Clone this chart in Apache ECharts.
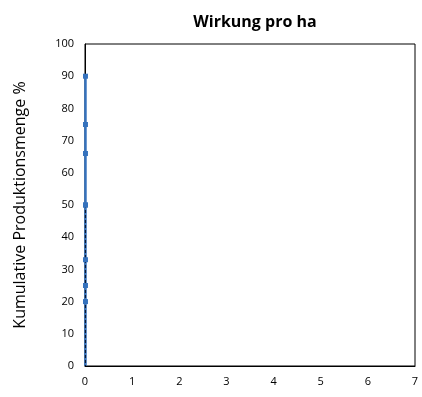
<!DOCTYPE html>
<html><head><meta charset="utf-8">
<script src="https://cdn.jsdelivr.net/npm/echarts@6/dist/echarts.min.js"></script>
<style>html,body{margin:0;padding:0;background:#fff}#c{width:422px;height:397px}</style>
</head><body><div id="c"></div>
<script>
const xTicks = [0,1,2,3,4,5,6,7];
const yTicks = [0,10,20,30,40,50,60,70,80,90,100];
const solidX = [0.01,0.01,0.01,0.01];
const solidY = [90,75,66,50];
const dashedX = [0.01,0.01,0.01,0.01,0.01];
const dashedY = [50,33,25,20,0];
const dashedMarker = [true,true,true,true,false];

const blue = '#3572bd';
const chart = echarts.init(document.getElementById('c'));
chart.setOption({
  animation:false,
  title:{text:'Wirkung pro ha',left:250,top:9,textAlign:'center',
    textStyle:{fontFamily:'Open Sans',fontWeight:'bold',fontSize:16,color:'#000'}},
  grid:{left:85,right:7,top:44,bottom:31,show:true,borderColor:'#000',borderWidth:1},
  xAxis:{type:'value',min:xTicks[0],max:xTicks[xTicks.length-1],interval:1,
    axisLine:{show:true,onZero:false,lineStyle:{color:'#000'}},axisTick:{show:false},splitLine:{show:false},
    axisLabel:{color:'#000',fontSize:11,fontFamily:'Open Sans',margin:10}},
  yAxis:{type:'value',min:yTicks[0],max:yTicks[yTicks.length-1],interval:10,
    name:'Kumulative Produktionsmenge %',nameLocation:'middle',nameGap:57,nameRotate:90,
    nameTextStyle:{color:'#000',fontSize:16,fontFamily:'Open Sans'},
    axisLine:{show:true,lineStyle:{color:'#000'}},axisTick:{show:false},splitLine:{show:false},
    axisLabel:{color:'#000',fontSize:11,fontFamily:'Open Sans',margin:11}},
  series:[
    {type:'line',data:dashedX.map((x,i)=>[x,dashedY[i]]),symbol:'none',
      lineStyle:{color:blue,width:2.5},z:2},
    {type:'line',data:dashedX.map((x,i)=>({value:[x,dashedY[i]],symbol:dashedMarker[i]?'rect':'none'})),
      symbol:'rect',symbolSize:5,itemStyle:{color:blue},
      lineStyle:{color:'#0b1a33',width:1.2,type:[3,2]},z:3},
    {type:'line',data:solidX.map((x,i)=>[x,solidY[i]]),symbol:'rect',symbolSize:5,
      itemStyle:{color:blue},lineStyle:{color:blue,width:2.5},z:4}
  ]
});
</script></body></html>
